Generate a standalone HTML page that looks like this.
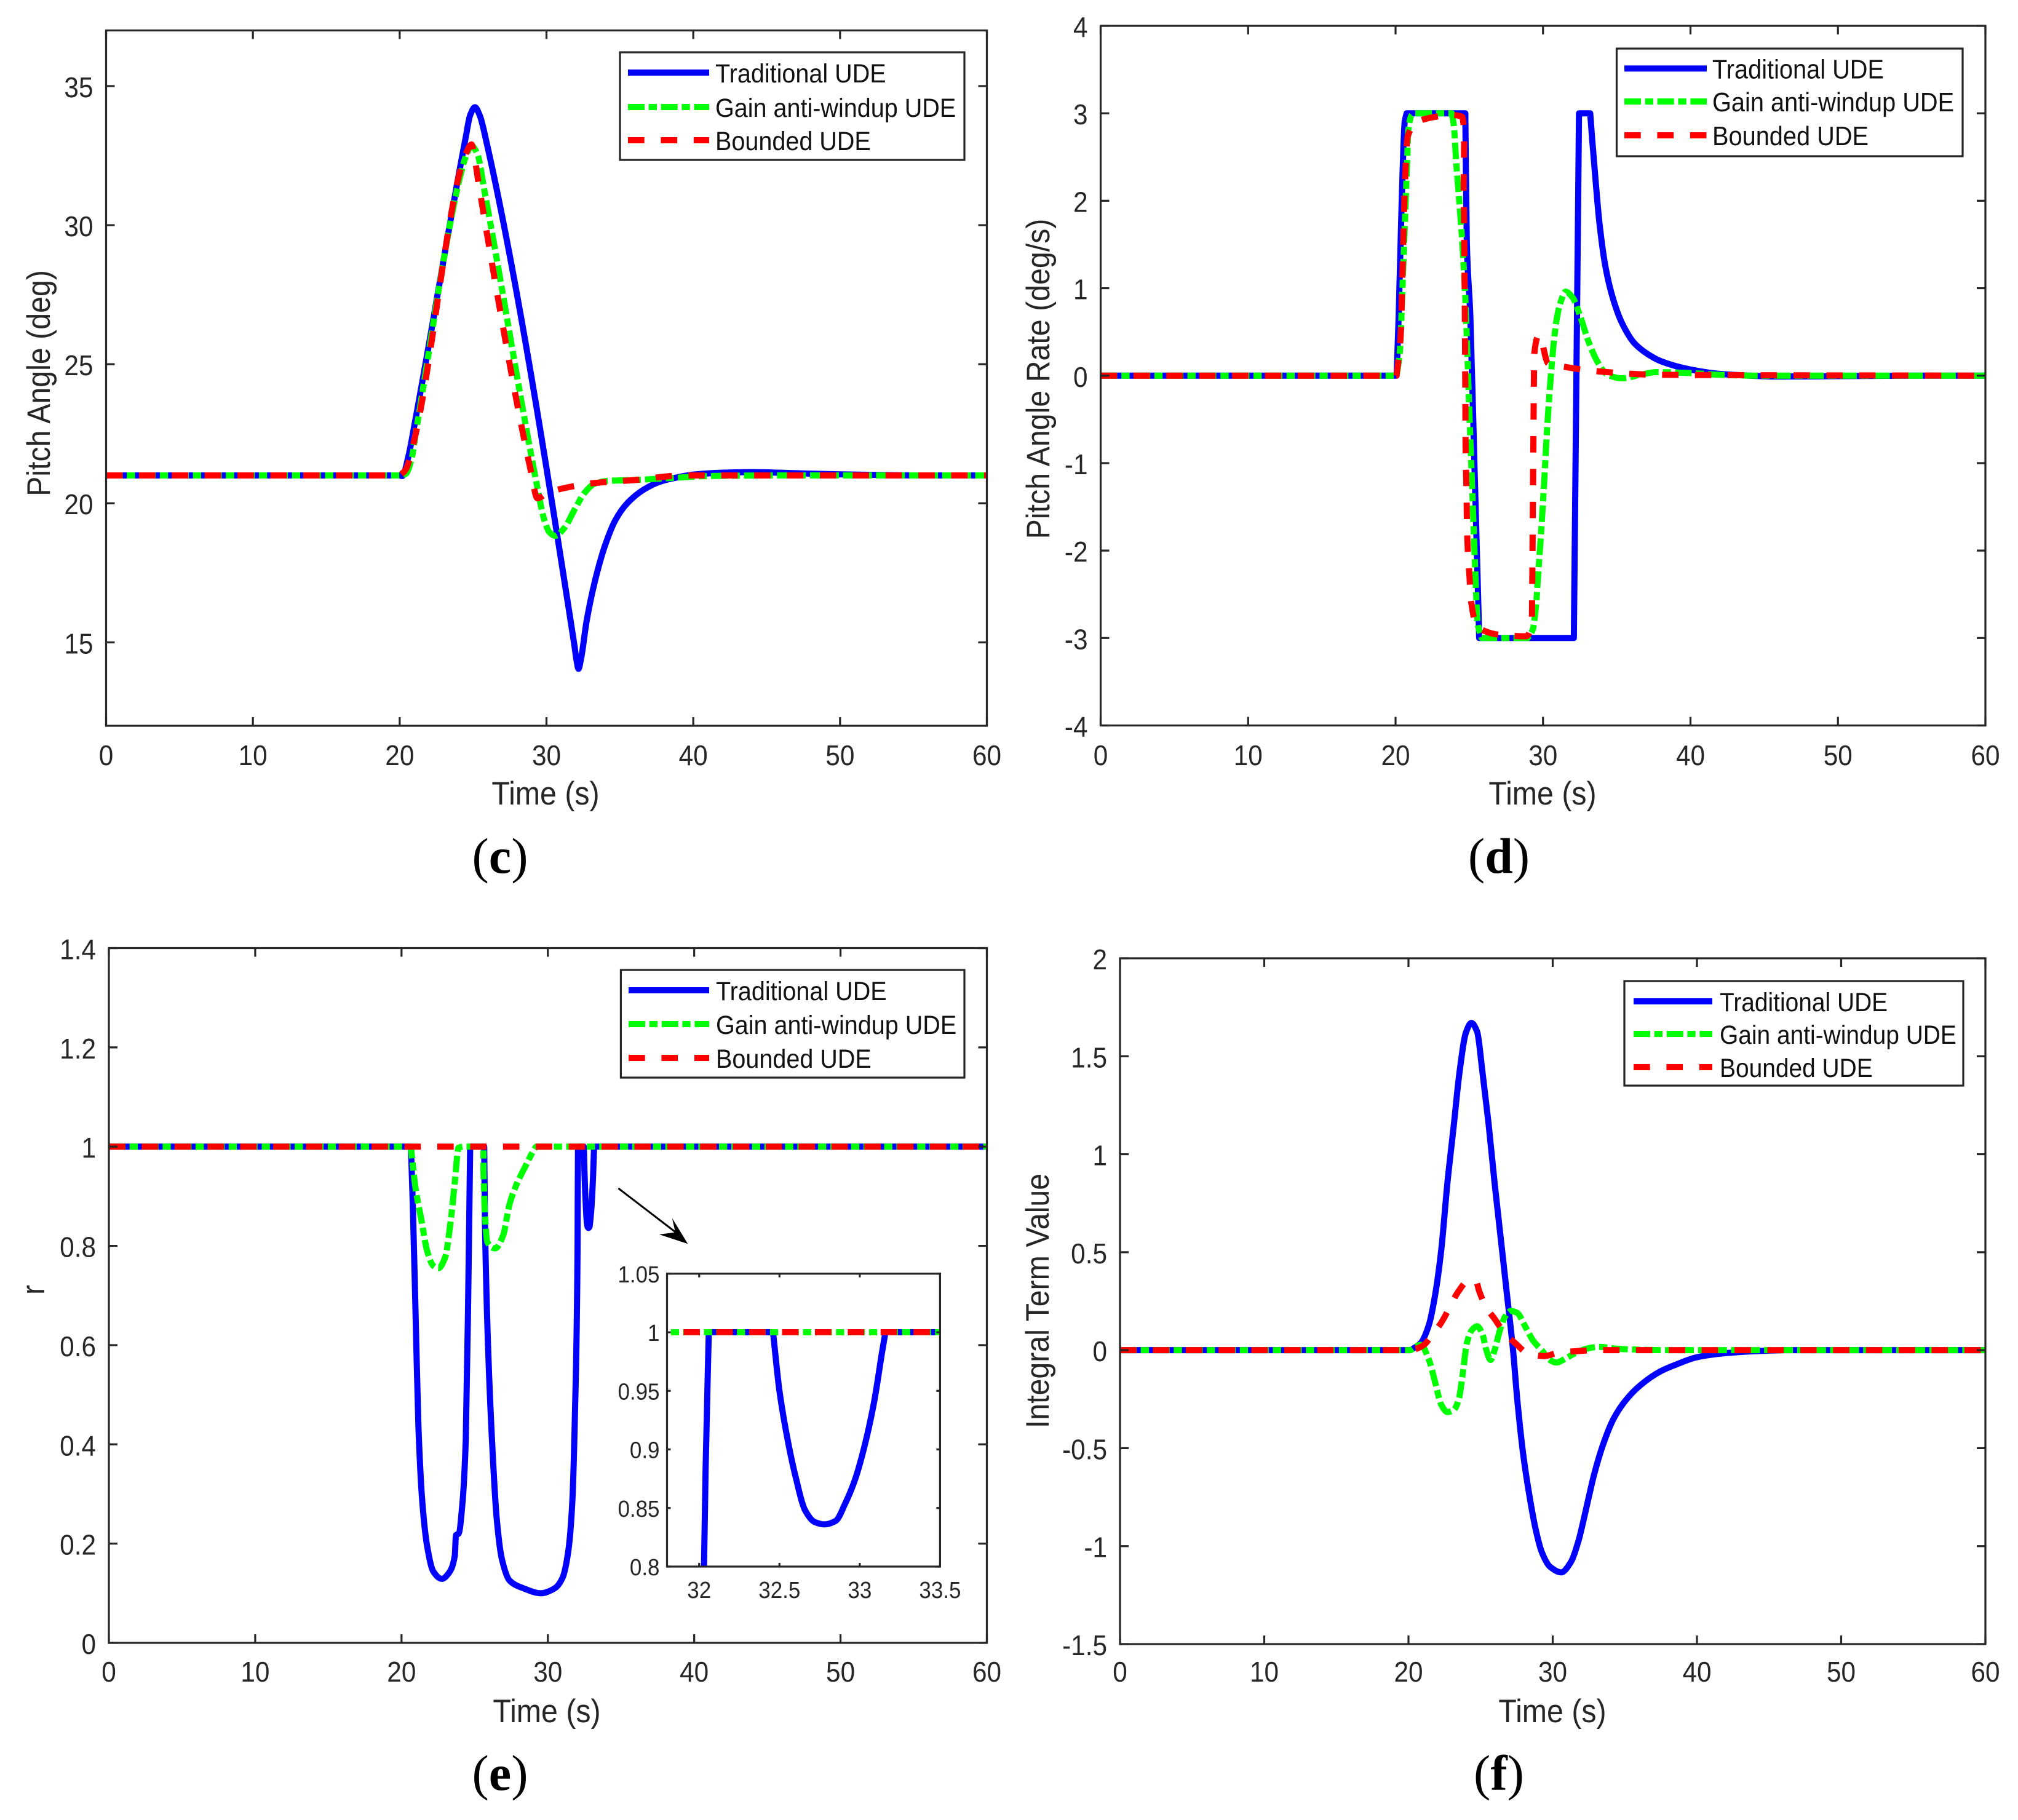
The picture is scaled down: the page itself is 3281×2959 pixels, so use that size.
<!DOCTYPE html>
<html lang="en">
<head>
<meta charset="utf-8">
<title>UDE comparison charts</title>
<style>
html,body{margin:0;padding:0;background:#fff;width:3281px;height:2959px;overflow:hidden;}
svg{display:block;position:absolute;left:0;top:0;overflow:hidden;}
text{font-family:"Liberation Sans",sans-serif;fill:#262626;}
</style>
</head>
<body>
<svg id="figure" xmlns="http://www.w3.org/2000/svg" width="3281" height="2959" viewBox="0 0 3281 2959"><defs id="clip-defs"></defs></svg>
<script>
// ---------- chart data ----------
const legendLabels = ['Traditional UDE', 'Gain anti-windup UDE', 'Bounded UDE'];
const timeTicks = [0, 10, 20, 30, 40, 50, 60];

// panel (c)
const pitchTicks = [15, 20, 25, 30, 35];
const pitchBlueT = [0,20,20.18,20.6,21,24.5,24.8,25.13,25.45,25.9,31.9,32.05,32.18,32.35,32.73,33.3,34,34.7,35.5,36.65,37.75,38.9,40,42,44,47,50,55,60];
const pitchBlueV = [21,21,20.98,21.7,22.8,33.16,33.95,34.24,33.95,33.02,14.9,14.35,14.05,14.4,15.75,17.2,18.5,19.4,20,20.5,20.78,20.93,21.03,21.1,21.12,21.08,21.04,21,21];
const pitchGreenT = [0,20,20.4,20.8,21.12,24.22,24.6,24.9,25.3,25.76,29.38,29.8,30.2,30.6,31.2,31.9,32.6,33.3,34.1,36.1,38.9,41,45,60];
const pitchGreenV = [21,21,21.05,21.57,22.6,31.96,32.6,32.85,32.55,31.28,20.57,19.5,18.96,18.83,19.1,19.76,20.38,20.71,20.8,20.84,20.92,20.98,21,21];
const pitchRedT = [0,20,20.4,20.95,24.5,24.9,25.06,25.4,28.96,29.38,30.1,31.7,33.3,36.1,38.9,40,60];
const pitchRedV = [21,21,21.2,22.18,32.56,32.9,32.56,31.42,21.1,20.18,20.38,20.6,20.73,20.84,20.99,21,21];

// panel (d)
const rateTicks = [-4, -3, -2, -1, 0, 1, 2, 3, 4];
const rateBlueT = [0,20.07,20.21,20.41,20.62,20.75,24.73,24.83,25.07,25.35,25.63,25.67,32.09,32.44,33.2,33.33,33.55,33.83,34.25,34.8,35.36,36.2,37.16,38,40,42,44,46,50,55,60];
const rateBlueV = [0,0,0.67,1.95,2.9,3,3,1.53,0.68,-1.03,-2.73,-3,-3,3,3,2.71,2.26,1.74,1.23,0.85,0.6,0.37,0.24,0.165,0.07,0.02,0,-0.01,-0.005,0,0];
const rateGreenT = [0,20.07,20.28,20.49,20.77,20.87,21.1,21.3,23.82,23.96,24.1,24.3,24.52,24.73,24.87,25,25.14,25.28,25.42,25.56,25.84,28.96,29.31,29.52,29.66,29.87,30.07,30.28,30.49,30.7,30.91,31.19,31.53,32.02,32.44,33.13,33.69,34.38,35.36,36.6,37.7,40,42,44,60];
const rateGreenV = [0,0,0.25,1.1,2.38,2.81,2.98,3,3,2.85,2.47,2.04,1.53,0.89,0.25,-0.39,-1.03,-1.67,-2.3,-2.82,-3,-3,-2.9,-2.64,-2.3,-1.79,-1.24,-0.6,-0.09,0.33,0.63,0.84,0.96,0.89,0.72,0.37,0.16,0.01,-0.03,0.01,0.04,0.03,0.01,0,0];
const rateRedT = [0,20.07,20.35,20.49,20.63,20.83,21.6,22.7,23.8,24.52,24.66,24.62,24.66,24.7,24.73,24.75,24.8,24.87,25,25.14,25.5,26.04,26.9,28.83,29.24,29.27,29.31,29.35,29.41,29.73,30.35,31.5,33.1,35.2,37.7,60];
const rateRedV = [0,0,0.47,1.31,2.17,2.74,2.91,2.96,2.98,2.96,2.8,2.17,1.53,0.68,-0.18,-0.81,-1.24,-1.88,-2.26,-2.6,-2.86,-2.92,-2.96,-2.98,-2.81,-2.38,-1.53,-0.68,0.25,0.46,0.14,0.1,0.06,0.03,0.01,0];

// panel (e) + inset
const ratioTicks = [0, 0.2, 0.4, 0.6, 0.8, 1, 1.2, 1.4];
const insetTimeTicks = [32, 32.5, 33, 33.5];
const insetRatioTicks = [0.8, 0.85, 0.9, 0.95, 1, 1.05];
const ratioBlueT = [0,20.64,20.77,20.96,21.15,21.42,21.75,22.17,22.75,23.24,23.64,23.72,23.9,24.17,24.39,24.57,24.69,25.65,25.7,25.91,26.18,26.5,26.85,27.4,28.33,29.53,30.47,31,31.41,31.67,31.86,32.03,32.04,32.06,32.46,32.5,32.55,32.6,32.66,32.72,32.78,32.85,32.91,32.97,33.03,33.09,33.14,33.16,60];
const ratioBlueV = [1,1,0.884,0.663,0.44,0.284,0.195,0.144,0.129,0.141,0.176,0.217,0.22,0.284,0.41,0.726,1,1,0.852,0.6,0.41,0.252,0.17,0.125,0.11,0.1,0.11,0.131,0.188,0.284,0.473,0.8,0.882,1,1,0.95,0.909,0.877,0.848,0.838,0.836,0.839,0.854,0.874,0.903,0.941,0.984,1,1];
const ratioGreenT = [0,20.64,20.96,21.36,21.76,22.17,22.52,22.98,23.37,23.64,23.9,24.2,25.6,25.6,25.7,25.86,26.4,26.93,27.38,27.79,28.46,29.08,29.2,60];
const ratioGreenV = [1,1,0.916,0.852,0.789,0.76,0.755,0.777,0.853,0.928,0.998,1,1,0.947,0.865,0.808,0.795,0.82,0.884,0.919,0.96,0.995,1,1];
const ratioRedT = [0,60];
const ratioRedV = [1,1];

// panel (f)
const integralTicks = [-1.5, -1, -0.5, 0, 0.5, 1, 1.5, 2];
const integralBlueT = [0,20.14,20.85,21.42,21.85,22.27,22.7,23.13,23.55,23.98,24.36,24.76,25.12,25.55,25.97,26.4,26.83,27.25,27.54,27.96,28.39,28.82,29.24,29.81,30.59,31.23,31.8,32.1,32.5,32.87,33.5,34.22,35.07,36.06,37.5,38.5,40,42,44,46,60];
const integralBlueV = [0,0,0.036,0.13,0.283,0.51,0.854,1.14,1.425,1.62,1.67,1.625,1.425,1.158,0.854,0.569,0.283,0,-0.25,-0.535,-0.744,-0.915,-1.03,-1.105,-1.134,-1.085,-0.97,-0.88,-0.75,-0.635,-0.48,-0.35,-0.255,-0.18,-0.107,-0.075,-0.036,-0.015,-0.005,0,0];
const integralGreenT = [0,20.14,20.85,21.42,21.85,22.27,22.7,23.13,23.49,23.77,24.05,24.4,24.76,25.12,25.4,25.69,25.97,26.33,26.69,27.1,27.54,28.1,28.67,29.24,29.8,30.23,30.95,31.66,32.37,33.22,34.36,36.07,37.5,60];
const integralGreenV = [0,0,0.027,-0.05,-0.164,-0.278,-0.316,-0.306,-0.25,-0.116,0.036,0.103,0.122,0.084,0,-0.05,0,0.1,0.17,0.2,0.19,0.12,0.046,0,-0.05,-0.063,-0.04,-0.011,0.008,0.017,0.008,0.002,0,0];
const integralRedT = [0,20.14,20.57,21.07,21.7,22.27,22.98,23.4,24.2,24.69,24.9,25.4,25.97,26.69,27.4,28.25,29.4,30.5,31.5,32.65,60];
const integralRedV = [0,0,0.008,0.027,0.084,0.14,0.236,0.293,0.356,0.35,0.302,0.217,0.16,0.084,0.036,-0.015,-0.03,-0.011,-0.006,0,0];

// ---------- drawing ----------
const NS = 'http://www.w3.org/2000/svg';
const root = document.getElementById('figure');
const clipDefs = document.getElementById('clip-defs');
const AXIS = '#262626';
const BLUE_DASH = 'none';
const GREEN_DASH = '27 6.7 13.3 6.7';
const RED_DASH = '26.7 26.7';
const X_SQUEEZE = 0.92;

function make(tag, parent, attrs) {
  const el = document.createElementNS(NS, tag);
  for (const k in attrs) el.setAttribute(k, attrs[k]);
  parent.appendChild(el);
  return el;
}
function label(parent, str, x, y, size, anchor, rot) {
  const tf = 'translate(' + x + ' ' + y + ')' + (rot ? ' rotate(-90)' : '') + ' scale(' + X_SQUEEZE + ' 1)';
  const el = make('text', parent, {transform: tf, 'font-size': size, 'text-anchor': anchor});
  el.textContent = str;
  return el;
}
function linearScale(d0, d1, r0, r1) {
  return v => r0 + (v - d0) * (r1 - r0) / (d1 - d0);
}
// monotone cubic curve through the data points; corners next to flat runs stay sharp
function pathFrom(ts, vs, sx, sy) {
  const xs = ts.map(sx);
  const ys = vs.map(sy);
  const n = xs.length;
  const h = [];
  const s = [];
  for (let i = 0; i < n - 1; i++) {
    h[i] = xs[i + 1] - xs[i];
    s[i] = h[i] > 0.01 ? (ys[i + 1] - ys[i]) / h[i] : null;
  }
  const mIn = new Array(n).fill(0);
  const mOut = new Array(n).fill(0);
  for (let i = 0; i < n; i++) {
    const a = i > 0 ? s[i - 1] : null;
    const b = i < n - 1 ? s[i] : null;
    if (a === null && b === null) continue;
    if (a === null) { mOut[i] = b; continue; }
    if (b === null) { mIn[i] = a; continue; }
    if (a === 0 || b === 0) { mIn[i] = a; mOut[i] = b; continue; }
    if (a * b < 0) continue;
    const w1 = 2 * h[i] + h[i - 1];
    const w2 = h[i] + 2 * h[i - 1];
    mIn[i] = mOut[i] = (w1 + w2) / (w1 / a + w2 / b);
  }
  let d = 'M' + xs[0].toFixed(2) + ' ' + ys[0].toFixed(2);
  for (let i = 0; i < n - 1; i++) {
    if (s[i] === null) {
      d += 'L' + xs[i + 1].toFixed(2) + ' ' + ys[i + 1].toFixed(2);
    } else {
      const c = h[i] / 3;
      d += 'C' + (xs[i] + c).toFixed(2) + ' ' + (ys[i] + mOut[i] * c).toFixed(2) + ' ' +
           (xs[i + 1] - c).toFixed(2) + ' ' + (ys[i + 1] - mIn[i + 1] * c).toFixed(2) + ' ' +
           xs[i + 1].toFixed(2) + ' ' + ys[i + 1].toFixed(2);
    }
  }
  return d;
}

let clipCount = 0;
function drawAxes(parent, box, xDomain, yDomain, xTicks, yTicks, opts) {
  const sx = linearScale(xDomain[0], xDomain[1], box.x0, box.x1);
  const sy = linearScale(yDomain[0], yDomain[1], box.y1, box.y0);

  const bg = make('rect', parent, {x: box.x0, y: box.y0, width: box.x1 - box.x0, height: box.y1 - box.y0, fill: '#fff'});
  
  

  clipCount += 1;
  const cp = make('clipPath', clipDefs, {id: 'clip' + clipCount});
  make('rect', cp, {x: box.x0, y: box.y0, width: box.x1 - box.x0, height: box.y1 - box.y0});

  const lines = make('g', parent, {'clip-path': 'url(#clip' + clipCount + ')', fill: 'none', 'stroke-width': 10, 'stroke-linejoin': 'round', 'stroke-linecap': 'butt'});
  
  

  opts.series.forEach(s => {
    const line = make('path', lines, {d: pathFrom(s.t, s.v, sx, sy), stroke: s.color, 'stroke-dasharray': s.dash});
    
    
  });

  const frame = make('rect', parent, {x: box.x0, y: box.y0, width: box.x1 - box.x0, height: box.y1 - box.y0, fill: 'none', stroke: AXIS, 'stroke-width': 3.2});
  
  

  const L = opts.tickLen;
  xTicks.forEach(t => {
    const x = sx(t);
    const tick = make('path', parent, {d: 'M' + x + ' ' + box.y1 + 'v' + (-L) + 'M' + x + ' ' + box.y0 + 'v' + L, stroke: AXIS, 'stroke-width': 3.2, fill: 'none'});
    
    
    const txt = label(parent, String(t), x, opts.xLabelY, opts.tickSize, 'middle');
    
    
  });
  yTicks.forEach(v => {
    const y = sy(v);
    const tick = make('path', parent, {d: 'M' + box.x0 + ' ' + y + 'h' + L + 'M' + box.x1 + ' ' + y + 'h' + (-L), stroke: AXIS, 'stroke-width': 3.2, fill: 'none'});
    
    
    const txt = label(parent, String(v), box.x0 - opts.yLabelGap, y + opts.yLabelDrop, opts.tickSize, 'end');
    
    
  });
}

function drawLegend(parent, lg) {
  const g = make('g', parent, {});
  
  

  const bx = make('rect', g, {x: lg.x0, y: lg.y0, width: lg.x1 - lg.x0, height: lg.y1 - lg.y0, fill: '#fff', stroke: AXIS, 'stroke-width': 3.2});
  
  

  const styles = [['#0000ff', BLUE_DASH], ['#00ff00', GREEN_DASH], ['#ff0000', RED_DASH]];
  legendLabels.forEach((name, i) => {
    const sw = make('line', g, {x1: lg.lineX0, x2: lg.lineX1, y1: lg.rows[i], y2: lg.rows[i], stroke: styles[i][0], 'stroke-width': 10, 'stroke-dasharray': styles[i][1]});
    
    
    const txt = label(g, name, lg.textX, lg.rows[i] + 16, lg.font, 'start');
    
    
    txt.style.fill = '#111';
  });
}

function caption(parent, letter, x, y) {
  const el = make('text', parent, {x: x, y: y, 'font-size': 82, 'text-anchor': 'middle'});
  el.style.fontFamily = '"Liberation Serif",serif';
  el.style.fill = '#000';
  const a = make('tspan', el, {});
  a.textContent = '(';
  const b = make('tspan', el, {'font-weight': 'bold'});
  b.textContent = letter;
  const c = make('tspan', el, {});
  c.textContent = ')';
  return el;
}

function seriesSet(bt, bv, gt, gv, rt, rv) {
  return [
    {name: 'traditional-ude', t: bt, v: bv, color: '#0000ff', dash: BLUE_DASH},
    {name: 'gain-anti-windup-ude', t: gt, v: gv, color: '#00ff00', dash: GREEN_DASH},
    {name: 'bounded-ude', t: rt, v: rv, color: '#ff0000', dash: RED_DASH}
  ];
}

function drawPanel(p) {
  const g = make('g', root, {});
  
  

  drawAxes(g, p.box, [0, 60], p.yDomain, timeTicks, p.yTicks, {
    series: p.series, tickLen: 14, xLabelY: p.xTickY, tickSize: 46, yLabelGap: 21, yLabelDrop: 18
  });

  const xt = label(g, 'Time (s)', p.xTitle[0], p.xTitle[1], 52.5, 'middle');
  
  

  const yt = label(g, p.yTitle, p.yTitlePos[0], p.yTitlePos[1], 52.5, 'middle', true);
  
  

  drawLegend(g, p.legend);

  const cap = caption(g, p.letter, p.captionPos[0], p.captionPos[1]);
  
  
  return g;
}

drawPanel({
  name: 'pitch-angle-panel', letter: 'c', yTitle: 'Pitch Angle (deg)',
  box: {x0: 172.5, x1: 1604.5, y0: 49.5, y1: 1180}, yDomain: [12, 37], yTicks: pitchTicks,
  series: seriesSet(pitchBlueT, pitchBlueV, pitchGreenT, pitchGreenV, pitchRedT, pitchRedV),
  xTickY: 1244, xTitle: [887, 1308], yTitlePos: [81, 623], captionPos: [813, 1419],
  legend: {x0: 1008, x1: 1568, y0: 85, y1: 260, lineX0: 1021, lineX1: 1153, rows: [118, 174, 228], textX: 1163, font: 43}
});

drawPanel({
  name: 'pitch-angle-rate-panel', letter: 'd', yTitle: 'Pitch Angle Rate (deg/s)',
  box: {x0: 1789.5, x1: 3228, y0: 42, y1: 1179.5}, yDomain: [-4, 4], yTicks: rateTicks,
  series: seriesSet(rateBlueT, rateBlueV, rateGreenT, rateGreenV, rateRedT, rateRedV),
  xTickY: 1244, xTitle: [2508, 1308], yTitlePos: [1706, 616], captionPos: [2437, 1419],
  legend: {x0: 2628.5, x1: 3191, y0: 79, y1: 254, lineX0: 2641, lineX1: 2775, rows: [111.4, 165, 220], textX: 2784, font: 43.2}
});

const ratioPanel = drawPanel({
  name: 'r-value-panel', letter: 'e', yTitle: 'r',
  box: {x0: 177, x1: 1604.5, y0: 1541.5, y1: 2671}, yDomain: [0, 1.4], yTicks: ratioTicks,
  series: seriesSet(ratioBlueT, ratioBlueV, ratioGreenT, ratioGreenV, ratioRedT, ratioRedV),
  xTickY: 2734, xTitle: [889, 2800], yTitlePos: [72, 2097], captionPos: [813, 2910],
  legend: {x0: 1009.4, x1: 1568, y0: 1577, y1: 1752, lineX0: 1022, lineX1: 1153, rows: [1610, 1665, 1720], textX: 1164, font: 43}
});

// zoom inset of panel (e)
const insetGroup = make('g', ratioPanel, {});


drawAxes(insetGroup, {x0: 1084.5, x1: 1528.4, y0: 2070.8, y1: 2547}, [31.8, 33.5], [0.8, 1.05], insetTimeTicks, insetRatioTicks, {
  series: seriesSet(ratioBlueT, ratioBlueV, ratioGreenT, ratioGreenV, ratioRedT, ratioRedV),
  tickLen: 6, xLabelY: 2598, tickSize: 38, yLabelGap: 12, yLabelDrop: 14
});

const arrowLine = make('line', ratioPanel, {x1: 1005.4, y1: 1932, x2: 1098, y2: 2003, stroke: '#000', 'stroke-width': 3});


const arrowHead = make('polygon', ratioPanel, {points: '1118.3,2022.3 1092.8,1980.5 1098,2003.5 1071.8,2007', fill: '#000'});



drawPanel({
  name: 'integral-term-panel', letter: 'f', yTitle: 'Integral Term Value',
  box: {x0: 1821, x1: 3228, y0: 1558, y1: 2673}, yDomain: [-1.5, 2], yTicks: integralTicks,
  series: seriesSet(integralBlueT, integralBlueV, integralGreenT, integralGreenV, integralRedT, integralRedV),
  xTickY: 2734, xTitle: [2524, 2800], yTitlePos: [1705, 2115], captionPos: [2437, 2910],
  legend: {x0: 2641, x1: 3192, y0: 1595, y1: 1765, lineX0: 2656, lineX1: 2784, rows: [1628, 1681, 1735], textX: 2796, font: 42.3}
});
</script>
</body>
</html>
